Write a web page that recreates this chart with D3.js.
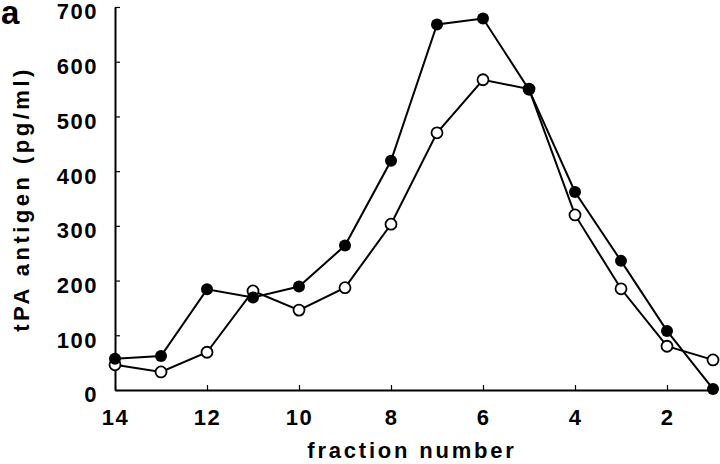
<html>
<head>
  <style>
    body { margin: 0; background: #fff; }
    svg text { font-family: "Liberation Sans", Arial, sans-serif; font-weight: bold; fill: #000; }
  </style>
</head>
<body>
  <div id="elm"></div>
  <script src="https://d3js.org/d3.v7.min.js"></script>
  <script>
  'use strict';

  // fraction numbers (x) and tPA antigen readings (pg/ml)
  var fractions = [14, 13, 12, 11, 10, 9, 8, 7, 6, 5, 4, 3, 2, 1];
  var filledSeries = [57, 62, 184, 169, 189, 264, 419, 668, 679, 549, 362, 236, 108, 2];
  var openSeries   = [46, 33, 69, 181, 146, 187, 303, 470, 567, 550, 320, 185, 80, 55];
  var xTicks = [14, 12, 10, 8, 6, 4, 2];
  var yTicks = [0, 100, 200, 300, 400, 500, 600, 700];

  var W = 720, H = 464;
  var svg = d3.select('#elm').append('svg')
    .attr('width', W).attr('height', H)
    .style('background', '#fff');

  var x = d3.scaleLinear().domain([14, 1]).range([115, 713]);
  var y = d3.scaleLinear().domain([0, 700]).range([390, 7]);

  var xAxis = d3.axisBottom(x).tickValues(xTicks).tickSizeInner(-5).tickSizeOuter(0).tickPadding(19);
  var yAxis = d3.axisLeft(y).tickValues(yTicks).tickSizeInner(-5).tickSizeOuter(0).tickPadding(17);

  var gx = svg.append('g').attr('transform', 'translate(0,' + y(0) + ')').call(xAxis);
  var gy = svg.append('g').attr('transform', 'translate(' + x(14) + ',0)').call(yAxis);

  [gx, gy].forEach(function(g) {
    g.select('.domain').attr('stroke', '#000').attr('stroke-width', 2);
    g.selectAll('.tick line').attr('stroke', '#000').attr('stroke-width', 1.2);
    g.selectAll('.tick text')
      .attr('font-size', 22).attr('font-weight', 'bold')
      .attr('font-family', '"Liberation Sans", Arial, sans-serif')
      .style('letter-spacing', '1.5px').attr('fill', '#000');
  });
  gy.selectAll('.tick text').attr('dy', '0.54em');

  var line = d3.line()
    .x(function(d) { return x(d[0]); })
    .y(function(d) { return y(d[1]); });

  var openPts = fractions.map(function(f, i) { return [f, openSeries[i]]; });
  var filledPts = fractions.map(function(f, i) { return [f, filledSeries[i]]; });

  svg.append('path').datum(openPts).attr('d', line)
    .attr('fill', 'none').attr('stroke', '#000').attr('stroke-width', 2);
  svg.append('path').datum(filledPts).attr('d', line)
    .attr('fill', 'none').attr('stroke', '#000').attr('stroke-width', 2);

  svg.append('g').selectAll('circle').data(openPts).join('circle')
    .attr('cx', function(d) { return x(d[0]); })
    .attr('cy', function(d) { return y(d[1]); })
    .attr('r', 5.5).attr('fill', '#fff').attr('stroke', '#000').attr('stroke-width', 1.8);
  svg.append('g').selectAll('circle').data(filledPts).join('circle')
    .attr('cx', function(d) { return x(d[0]); })
    .attr('cy', function(d) { return y(d[1]); })
    .attr('r', 6).attr('fill', '#000');

  // axis titles
  svg.append('text')
    .attr('x', 412).attr('y', 458)
    .attr('text-anchor', 'middle')
    .attr('font-size', 22)
    .style('letter-spacing', '2.8px')
    .text('fraction number');

  svg.append('text')
    .attr('transform', 'translate(29,199) rotate(-90)')
    .attr('text-anchor', 'middle')
    .attr('font-size', 22)
    .style('letter-spacing', '3.5px')
    .text('tPA antigen (pg/ml)');

  // panel letter
  svg.append('text')
    .attr('x', 1).attr('y', 24)
    .attr('font-size', 33)
    .text('a');
  </script>
</body>
</html>
